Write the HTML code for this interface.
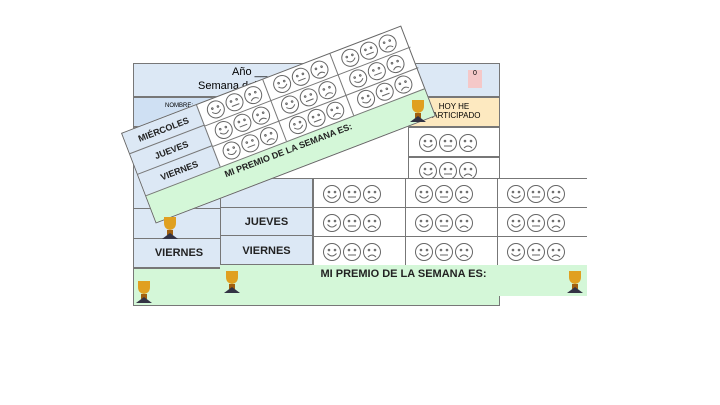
<!DOCTYPE html>
<html><head><meta charset="utf-8"><style>
body{margin:0;width:720px;height:405px;background:#fff;position:relative;overflow:hidden;font-family:"Liberation Sans",sans-serif}
.a{position:absolute;box-sizing:border-box}
.b{border:1px solid #777}
.blue{background:#dce8f5}
.green{background:#d4f7d8}
.lab{font-weight:bold;font-size:11px;color:#222;display:flex;align-items:center;justify-content:center}
svg.s{position:absolute}
</style></head><body>
<svg width="0" height="0" style="position:absolute">
<defs>
<symbol id="f" viewBox="0 0 60 20">
<g fill="none" stroke="#666" stroke-width="1">
<circle cx="10" cy="10" r="8.5"/><circle cx="7" cy="8" r=".8"/><circle cx="13" cy="8" r=".8"/><path d="M5.5 11.5q4.5 5 9 0"/>
<circle cx="30" cy="10" r="8.5"/><circle cx="27" cy="8" r=".8"/><circle cx="33" cy="8" r=".8"/><path d="M26 13h8"/>
<circle cx="50" cy="10" r="8.5"/><circle cx="47" cy="8" r=".8"/><circle cx="53" cy="8" r=".8"/><path d="M46 15q4-4 8 0"/>
</g></symbol>
<symbol id="t" viewBox="0 0 20 24"><path d="M4 2h12v6q0 6-6 7q-6-1-6-7z" fill="#e0a020"/><rect x="7" y="15" width="6" height="5" fill="#a06010"/><path d="M2 24l8-6l8 6z" fill="#334"/></symbol>
</defs></svg>

<!-- back sheet -->
<div class="a b" style="left:133px;top:63px;width:367px;height:243px;background:#fff"></div>
<div class="a b blue" style="left:133px;top:63px;width:367px;height:34px"></div>
<div class="a" style="left:232px;top:66px;font-size:11px">Año _______</div>
<div class="a" style="left:198px;top:80px;font-size:11px">Semana del</div>
<div class="a" style="left:468px;top:70px;width:14px;height:18px;background:#f5c8c8;font-size:7px;text-align:center">0</div>
<div class="a b" style="left:133px;top:97px;width:92px;height:30px;background:#cfe0f3;font-size:6px;text-align:center;padding-top:5px">NOMBRE:</div>
<div class="a" style="left:225px;top:97px;width:40px;height:30px;background:#e4cff5"></div>
<div class="a b" style="left:408px;top:97px;width:92px;height:30px;background:#fde9c0;font-size:8px;text-align:center;padding-top:4px">HOY HE<br>PARTICIPADO</div>
<div class="a b blue" style="left:133px;top:127px;width:92px;height:141px"></div>
<div class="a" style="left:133px;top:208px;width:92px;height:1px;background:#777"></div>
<div class="a" style="left:133px;top:238px;width:92px;height:1px;background:#777"></div>
<div class="a b" style="left:408px;top:127px;width:92px;height:30px"></div>
<div class="a b" style="left:408px;top:157px;width:92px;height:22px"></div>
<svg class="s" style="left:418px;top:133px" width="60" height="20"><use href="#f"/></svg>
<svg class="s" style="left:418px;top:161px" width="60" height="20"><use href="#f"/></svg>
<div class="a lab" style="left:133px;top:238px;width:92px;height:30px">VIERNES</div>
<div class="a b green" style="left:133px;top:268px;width:367px;height:38px"></div>
<svg class="s" style="left:134px;top:278px" width="20" height="26"><use href="#t"/></svg>

<!-- middle sheet -->
<div class="a" style="left:220px;top:178px;width:367px;height:118px;background:#fff"></div>
<div class="a b blue" style="left:220px;top:178px;width:93px;height:87px"></div>
<div class="a lab" style="left:220px;top:207px;width:93px;height:29px;border-top:1px solid #777;border-bottom:1px solid #777">JUEVES</div>
<div class="a lab" style="left:220px;top:236px;width:93px;height:29px">VIERNES</div>
<div class="a" style="left:313px;top:178px;width:274px;height:87px;border-left:1px solid #777;border-top:1px solid #777;
background:linear-gradient(#777,#777) 91px 0/1px 100% no-repeat,linear-gradient(#777,#777) 183px 0/1px 100% no-repeat,linear-gradient(#777,#777) 0 28px/100% 1px no-repeat,linear-gradient(#777,#777) 0 57px/100% 1px no-repeat"></div>
<svg class="s" style="left:322px;top:184px" width="60" height="20"><use href="#f"/></svg>
<svg class="s" style="left:414px;top:184px" width="60" height="20"><use href="#f"/></svg>
<svg class="s" style="left:506px;top:184px" width="60" height="20"><use href="#f"/></svg>
<svg class="s" style="left:322px;top:213px" width="60" height="20"><use href="#f"/></svg>
<svg class="s" style="left:414px;top:213px" width="60" height="20"><use href="#f"/></svg>
<svg class="s" style="left:506px;top:213px" width="60" height="20"><use href="#f"/></svg>
<svg class="s" style="left:322px;top:242px" width="60" height="20"><use href="#f"/></svg>
<svg class="s" style="left:414px;top:242px" width="60" height="20"><use href="#f"/></svg>
<svg class="s" style="left:506px;top:242px" width="60" height="20"><use href="#f"/></svg>
<div class="a green lab" style="left:220px;top:265px;width:367px;height:31px;align-items:flex-start;padding-top:3px">MI PREMIO DE LA SEMANA ES:</div>
<svg class="s" style="left:222px;top:268px" width="20" height="26"><use href="#t"/></svg>
<svg class="s" style="left:565px;top:268px" width="20" height="26"><use href="#t"/></svg>

<!-- rotated sheet -->
<div class="a" style="left:121px;top:133px;width:300px;height:97px;transform-origin:0 0;transform:rotate(-21deg);background:#fff;border:1px solid #666">
 <div class="a blue" style="left:0;top:0;width:80px;height:66px;border-right:1px solid #777"></div>
 <div class="a lab" style="left:0;top:0;width:80px;height:22px;font-size:9px;border-bottom:1px solid #777">MIÉRCOLES</div>
 <div class="a lab" style="left:0;top:22px;width:80px;height:22px;font-size:9px;border-bottom:1px solid #777">JUEVES</div>
 <div class="a lab" style="left:0;top:44px;width:80px;height:22px;font-size:9px">VIERNES</div>
 <div class="a" style="left:150px;top:0;width:1px;height:66px;background:#777"></div>
 <div class="a" style="left:222px;top:0;width:1px;height:66px;background:#777"></div>
 <div class="a" style="left:80px;top:22px;width:220px;height:1px;background:#777"></div>
 <div class="a" style="left:80px;top:44px;width:220px;height:1px;background:#777"></div>
 <svg class="s" style="left:86px;top:1px" width="60" height="20"><use href="#f"/></svg>
 <svg class="s" style="left:86px;top:23px" width="60" height="20"><use href="#f"/></svg>
 <svg class="s" style="left:86px;top:45px" width="60" height="20"><use href="#f"/></svg>
 <svg class="s" style="left:157px;top:1px" width="60" height="20"><use href="#f"/></svg>
 <svg class="s" style="left:157px;top:23px" width="60" height="20"><use href="#f"/></svg>
 <svg class="s" style="left:157px;top:45px" width="60" height="20"><use href="#f"/></svg>
 <svg class="s" style="left:230px;top:1px" width="60" height="20"><use href="#f"/></svg>
 <svg class="s" style="left:230px;top:23px" width="60" height="20"><use href="#f"/></svg>
 <svg class="s" style="left:230px;top:45px" width="60" height="20"><use href="#f"/></svg>
 <div class="a green lab" style="left:0;top:66px;width:298px;height:29px;font-size:9px;align-items:flex-start;padding-top:3px;border-top:1px solid #777">MI PREMIO DE LA SEMANA ES:</div>
</div>
<svg class="s" style="left:408px;top:97px" width="20" height="26"><use href="#t"/></svg>
<svg class="s" style="left:160px;top:214px" width="20" height="26"><use href="#t"/></svg>
</body></html>
